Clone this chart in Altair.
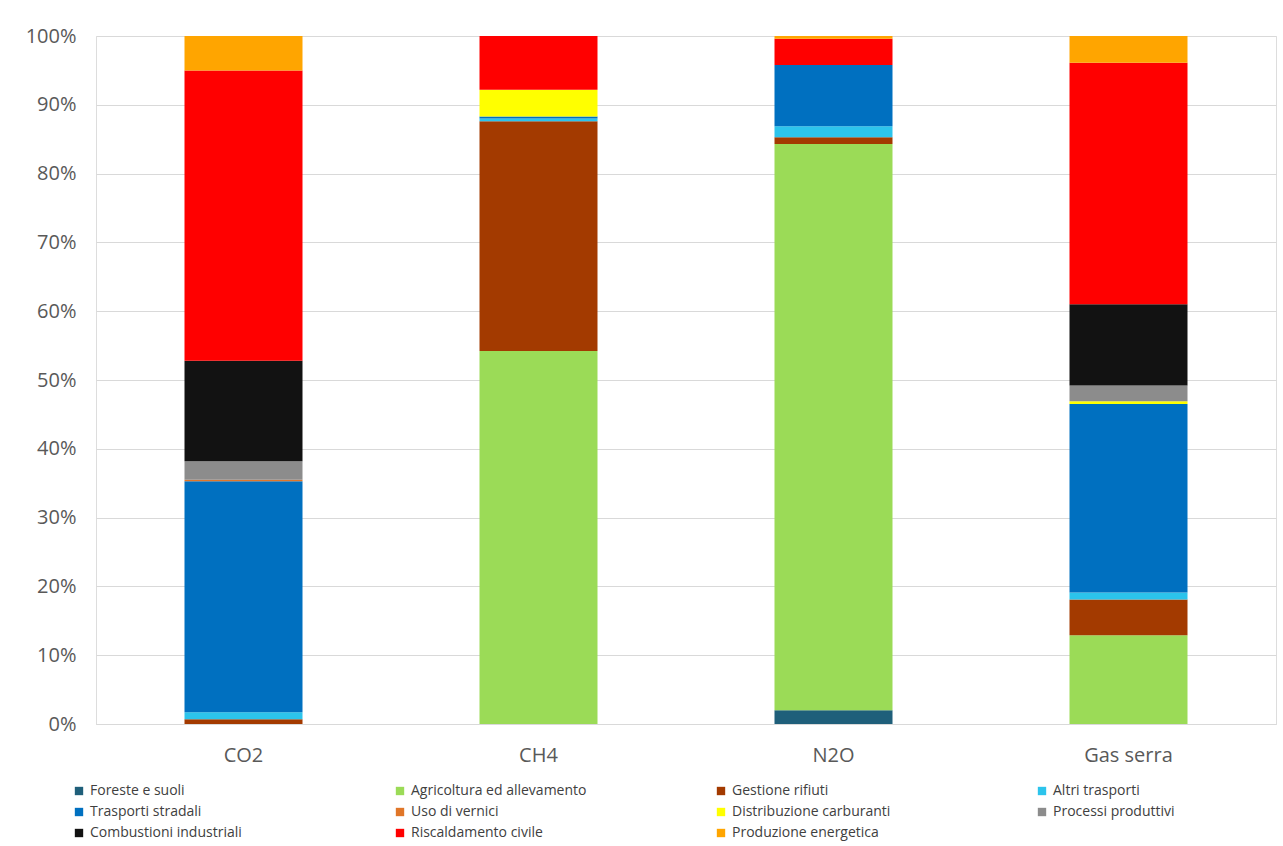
import altair as alt
import pandas as pd

gases = ["CO2", "CH4", "N2O", "Gas serra"]

sectors = [
    "Foreste e suoli",
    "Agricoltura ed allevamento",
    "Gestione rifiuti",
    "Altri trasporti",
    "Trasporti stradali",
    "Uso di vernici",
    "Distribuzione carburanti",
    "Processi produttivi",
    "Combustioni industriali",
    "Riscaldamento civile",
    "Produzione energetica",
]

colors = [
    "#1F5F7A",
    "#9BDB57",
    "#A33A00",
    "#2CC4EC",
    "#0070C0",
    "#E07628",
    "#FFFF00",
    "#8C8C8C",
    "#121212",
    "#FF0000",
    "#FFA500",
]

# percentage share per gas (CO2, CH4, N2O, Gas serra)
foreste = [0.0, 0.0, 2.0, 0.0]
agricoltura = [0.0, 54.2, 82.3, 12.9]
rifiuti = [0.7, 33.4, 1.0, 5.2]
altri_trasporti = [1.0, 0.4, 1.6, 1.0]
stradali = [33.6, 0.3, 8.9, 27.4]
vernici = [0.2, 0.0, 0.0, 0.0]
distribuzione = [0.0, 3.9, 0.0, 0.4]
processi = [2.7, 0.0, 0.0, 2.3]
combustioni = [14.6, 0.0, 0.0, 11.8]
riscaldamento = [42.2, 7.8, 3.8, 35.1]
energetica = [5.0, 0.0, 0.4, 3.9]

series = [foreste, agricoltura, rifiuti, altri_trasporti, stradali, vernici,
          distribuzione, processi, combustioni, riscaldamento, energetica]

rows = []
for i, (name, vals) in enumerate(zip(sectors, series)):
    for g, v in zip(gases, vals):
        rows.append({"gas": g, "settore": name, "valore": v, "ordine": i})
df = pd.DataFrame(rows)

FONT = "Open Sans"

chart = alt.Chart(df).mark_bar().encode(
    x=alt.X("gas:N", sort=gases, title=None,
            scale=alt.Scale(paddingInner=0.6, paddingOuter=0.3),
            axis=alt.Axis(labelAngle=0, labelFontSize=20, labelColor="#595959",
                          labelPadding=21, ticks=False, domainColor="#D9D9D9",
                          labelFont=FONT)),
    y=alt.Y("valore:Q", stack="zero", title=None,
            scale=alt.Scale(domain=[0, 100], nice=False),
            axis=alt.Axis(values=list(range(0, 101, 10)), labelExpr="datum.value + '%'",
                          labelFontSize=20, labelColor="#595959", labelPadding=20,
                          ticks=False, domain=False, gridColor="#D9D9D9",
                          labelFont=FONT)),
    color=alt.Color("settore:N", sort=sectors,
                    scale=alt.Scale(domain=sectors, range=colors),
                    legend=alt.Legend(title=None, orient="none", legendX=-24, legendY=748,
                                      direction="horizontal",
                                      columns=4, gridAlign="all", columnPadding=127,
                                      rowPadding=7, symbolType="square", symbolSize=70,
                                      symbolStrokeWidth=0, labelFontSize=14,
                                      labelColor="#404040", labelFont=FONT,
                                      labelLimit=300)),
    order=alt.Order("ordine:Q", sort="ascending"),
).properties(
    width=1180, height=688,
    autosize=alt.AutoSizeParams(type="none"),
    padding={"left": 96, "top": 36, "right": 7, "bottom": 122},
).configure_view(stroke=None).configure(background="white")

chart.save("out.html", embed_options={"renderer": "svg", "actions": False})
